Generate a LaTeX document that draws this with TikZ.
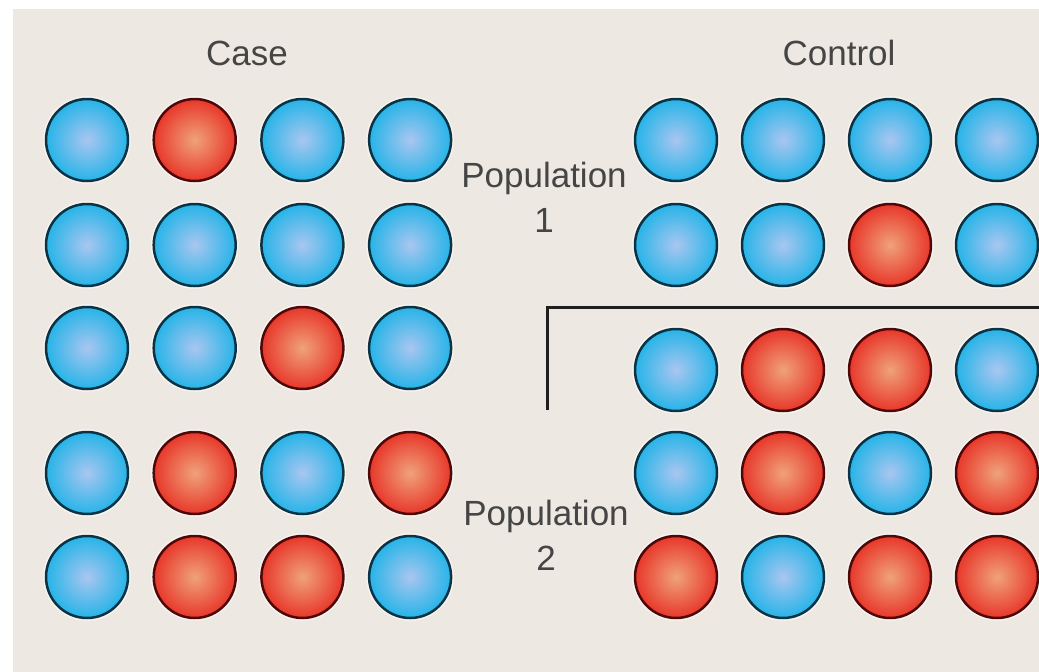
\documentclass[tikz,border=0pt]{standalone}
\usepackage{fontspec}
\setmainfont{Liberation Sans}
\usepackage{xcolor}
\definecolor{paper}{HTML}{EEE8E2}
\definecolor{labelgray}{HTML}{454545}
\definecolor{bin}{HTML}{A9C6F0}
\definecolor{bout}{HTML}{26B4E8}
\definecolor{bline}{HTML}{0B3344}
\definecolor{rin}{HTML}{EFA27A}
\definecolor{rout}{HTML}{E8372A}
\definecolor{rline}{HTML}{4E0808}

\begin{document}
\begin{tikzpicture}[
  x=1pt, y=-1pt,
  ball/.style={circle, minimum size=82pt, inner sep=0pt, line width=2.5pt,
    draw=#1line, inner color=#1in, outer color=#1out,
    preaction={draw=white, line width=5.5pt, opacity=0.55}},
  title/.style={font=\fontsize{35}{45}\selectfont, text=labelgray, anchor=base},
  poplabel/.style={title, align=center},
  bracket/.style={line width=3pt, draw=black!88}
]
\fill[white] (0,0) rectangle (1039,672);
\fill[paper] (13,9) rectangle (1039,672);
\useasboundingbox (0,0) rectangle (1039,672);

\node[title] (case) at (247,65) {Case};
\node[title] (control) at (839,65) {Control};
\node[poplabel] (pop1) at (544,232) {Population\\1};
\node[poplabel] (pop2) at (546,570) {Population\\2};

\foreach \r/\y/\pat in {1/140/{b,r,b,b}, 2/245/{b,b,b,b}, 3/348/{b,b,r,b},
                        4/473/{b,r,b,r}, 5/577/{b,r,r,b}}
  \foreach \c [count=\i] in \pat
    \node[ball=\c] (case-\r-\i) at ({87+107.7*(\i-1)},\y) {};

\foreach \r/\y/\pat in {1/140/{b,b,b,b}, 2/245/{b,b,r,b}, 3/370/{b,r,r,b},
                        4/473/{b,r,b,r}, 5/577/{r,b,r,r}}
  \foreach \c [count=\i] in \pat
    \node[ball=\c] (control-\r-\i) at ({676+107*(\i-1)},\y) {};

\coordinate (brk-foot) at (547,410);
\coordinate (brk-end) at (1045,307);
\draw[bracket] (brk-foot) |- (brk-end);
\end{tikzpicture}
\end{document}
